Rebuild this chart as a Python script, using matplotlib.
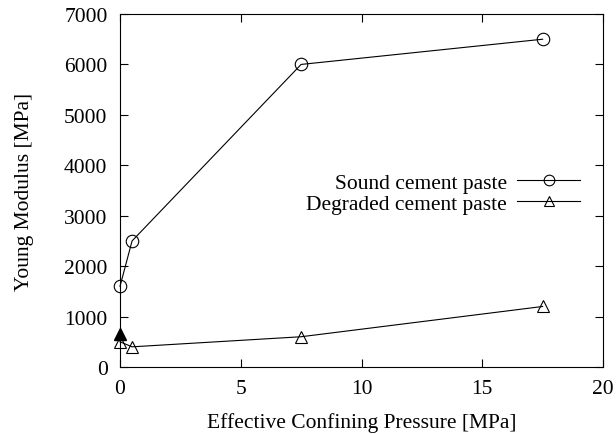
import matplotlib
matplotlib.use("Agg")
import matplotlib.pyplot as plt

# Given data
pressure = [0, 0.5, 7.5, 17.5]
sound = [1600, 2500, 6000, 6500]
degraded = [500, 400, 600, 1200]
extra_x = [0]
extra_y = [650]

plt.rcParams['font.family'] = ['Liberation Serif', 'DejaVu Serif']
plt.rcParams['font.size'] = 15.5

fig = plt.figure(figsize=(6.16, 4.35), dpi=100)
ax = fig.add_axes([120 / 616, 67 / 435, 483 / 616, 353 / 435])

ax.plot(pressure, sound, marker='o', linestyle='-', color='k', linewidth=0.8,
        markersize=9, markerfacecolor='none', markeredgewidth=0.8, clip_on=False,
        label='Sound cement paste')
ax.plot(pressure, degraded, marker='^', linestyle='-', color='k', linewidth=0.8,
        markersize=9, markerfacecolor='none', markeredgewidth=0.8, clip_on=False,
        label='Degraded cement paste')
ax.plot(extra_x, extra_y, marker='^', linestyle='none', color='k', markersize=8,
        clip_on=False)

ax.set_xlim(0, 20)
ax.set_ylim(0, 7000)
ax.set_xticks([0, 5, 10, 15, 20])
ax.set_yticks(range(0, 7001, 1000))
ax.tick_params(direction='in', top=True, right=True, length=6, width=0.8, pad=9)
for s in ax.spines.values():
    s.set_linewidth(0.8)

ax.set_xlabel('Effective Confining Pressure [MPa]', labelpad=10)
ax.set_ylabel('Young Modulus [MPa]', labelpad=22)

ax.legend(loc='upper right', bbox_to_anchor=(0.97, 0.575), frameon=False,
          markerfirst=False, handlelength=2.9, labelspacing=0.05,
          handletextpad=0.5, borderaxespad=0, markerscale=0.85)

fig.savefig('out.png', dpi=100)
